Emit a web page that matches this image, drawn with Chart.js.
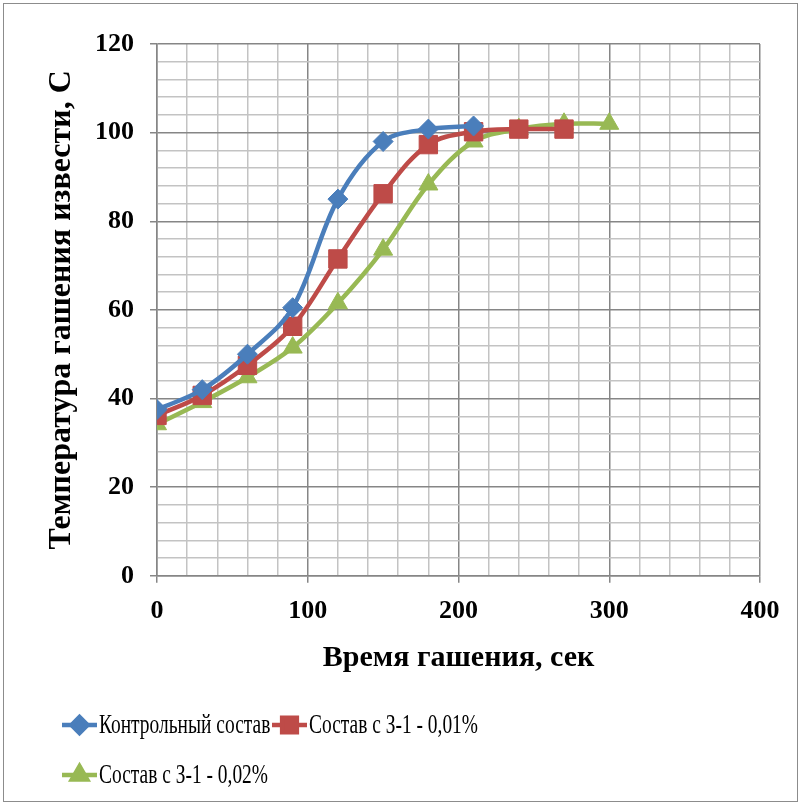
<!DOCTYPE html>
<html>
<head>
<meta charset="utf-8">
<script src="https://cdn.jsdelivr.net/npm/chart.js@4"></script>
<style>
  html, body { margin: 0; padding: 0; background: #fff; }
  #wrap { width: 801px; height: 805px; position: relative; }
</style>
</head>
<body>
<div id="wrap"><canvas id="chart" width="801" height="805"></canvas></div>
<script>
'use strict';

// Series (время, сек -> температура, C)
const controlTime = [0, 30, 60, 90, 120, 150, 180, 210];
const controlTemp = [37.5, 42, 50, 60.5, 85, 98, 100.8, 101.5];

const z01Time = [0, 30, 60, 90, 120, 150, 180, 210, 240, 270];
const z01Temp = [36.2, 40.7, 47.5, 56.3, 71.5, 86.2, 97.3, 100.2, 100.8, 100.8];

const z02Time = [0, 30, 60, 90, 120, 150, 180, 210, 240, 270, 300];
const z02Temp = [34.2, 39.2, 44.8, 51.5, 61.5, 73.6, 88.3, 98, 100.8, 102, 102];

const seriesNames = ['Контрольный состав', 'Состав с З-1 - 0,01%', 'Состав с З-1 - 0,02%'];
const xTitle = 'Время гашения, сек';
const yTitle = 'Температура гашения извести, С';

const SERIF = "'Liberation Serif', 'Times New Roman', serif";
const MAJOR = '#868686';
const MINOR = '#c3c3c3';

const zip = (xs, ys) => xs.map((x, i) => ({ x, y: ys[i] }));

const lineDefaults = {
  borderWidth: 4.5,
  tension: 0.35,
  fill: false,
  pointBorderWidth: 1
};

// Legend with line + marker, drawn like the office chart legend
const legendPlugin = {
  id: 'officeLegend',
  afterDraw(chart) {
    const ctx = chart.ctx;
    const items = [
      { ds: 0, x: 62, y: 725 },
      { ds: 1, x: 272, y: 725 },
      { ds: 2, x: 62, y: 775 }
    ];
    ctx.save();
    items.forEach(it => {
      const d = chart.data.datasets[it.ds];
      ctx.strokeStyle = d.borderColor;
      ctx.lineWidth = 4.5;
      ctx.beginPath();
      ctx.moveTo(it.x, it.y);
      ctx.lineTo(it.x + 35, it.y);
      ctx.stroke();
      ctx.fillStyle = d.pointBackgroundColor;
      ctx.strokeStyle = d.pointBorderColor;
      Chart.helpers.drawPoint(ctx, {
        pointStyle: d.pointStyle, radius: d.pointRadius * 0.8, rotation: 0, borderWidth: 1
      }, it.x + 17.5, it.y);
      // text, narrowed like the source
      ctx.save();
      ctx.translate(it.x + 37, it.y + 1);
      ctx.scale(0.72, 1);
      ctx.font = '27px ' + SERIF;
      ctx.textBaseline = 'middle';
      ctx.textAlign = 'left';
      ctx.fillStyle = '#000';
      ctx.fillText(d.label, 0, 0);
      ctx.restore();
    });
    // outer frame
    ctx.strokeStyle = '#8c8c8c';
    ctx.lineWidth = 1;
    ctx.strokeRect(3.5, 3.5, 794, 798);
    ctx.restore();
  }
};

new Chart(document.getElementById('chart'), {
  type: 'line',
  data: {
    datasets: [
      Object.assign({}, lineDefaults, {
        label: seriesNames[0],
        data: zip(controlTime, controlTemp),
        borderColor: '#4a7ebb',
        pointBackgroundColor: '#4a7ebb',
        pointBorderColor: '#4a7ebb',
        pointStyle: 'rectRot',
        pointRadius: 10
      }),
      Object.assign({}, lineDefaults, {
        label: seriesNames[1],
        data: zip(z01Time, z01Temp),
        borderColor: '#be4b48',
        pointBackgroundColor: '#be4b48',
        pointBorderColor: '#be4b48',
        pointStyle: 'rect',
        pointRadius: 13
      }),
      Object.assign({}, lineDefaults, {
        label: seriesNames[2],
        data: zip(z02Time, z02Temp),
        borderColor: '#98b954',
        pointBackgroundColor: '#98b954',
        pointBorderColor: '#98b954',
        pointStyle: 'triangle',
        pointRadius: 11
      })
    ]
  },
  options: {
    responsive: false,
    animation: false,
    layout: { padding: { left: 43, top: 44, right: 41, bottom: 129 } },
    plugins: { legend: { display: false }, tooltip: { enabled: false } },
    scales: {
      x: {
        type: 'linear',
        min: 0,
        max: 400,
        border: { color: MAJOR, width: 1.5 },
        grid: {
          color: c => (c.tick && c.tick.value % 100 === 0) ? MAJOR : MINOR,
          tickColor: c => (c.tick && c.tick.value % 100 === 0) ? MAJOR : 'rgba(0,0,0,0)',
          lineWidth: 1.5,
          tickLength: 7
        },
        ticks: {
          stepSize: 20,
          autoSkip: false,
          maxRotation: 0,
          padding: 13,
          color: '#000',
          font: { family: SERIF, size: 26, weight: 'bold' },
          callback: v => (v % 100 === 0 ? v : '')
        },
        title: {
          display: true,
          text: xTitle,
          color: '#000',
          font: { family: SERIF, size: 30, weight: 'bold' },
          padding: { top: 0, bottom: 0 }
        }
      },
      y: {
        min: 0,
        max: 120,
        border: { color: MAJOR, width: 1.5 },
        grid: {
          color: c => (c.tick && c.tick.value % 20 === 0) ? MAJOR : MINOR,
          tickColor: c => (c.tick && c.tick.value % 20 === 0) ? MAJOR : 'rgba(0,0,0,0)',
          lineWidth: 1.5,
          tickLength: 7
        },
        ticks: {
          stepSize: 4,
          autoSkip: false,
          padding: 16,
          color: '#000',
          font: { family: SERIF, size: 26, weight: 'bold' },
          callback: v => (v % 20 === 0 ? v : '')
        },
        title: {
          display: true,
          text: yTitle,
          color: '#000',
          font: { family: SERIF, size: 32, weight: 'bold' },
          padding: { top: 0, bottom: 10 }
        },
        afterFit: s => { s.width = 114; }
      }
    }
  },
  plugins: [legendPlugin]
});
</script>
</body>
</html>
